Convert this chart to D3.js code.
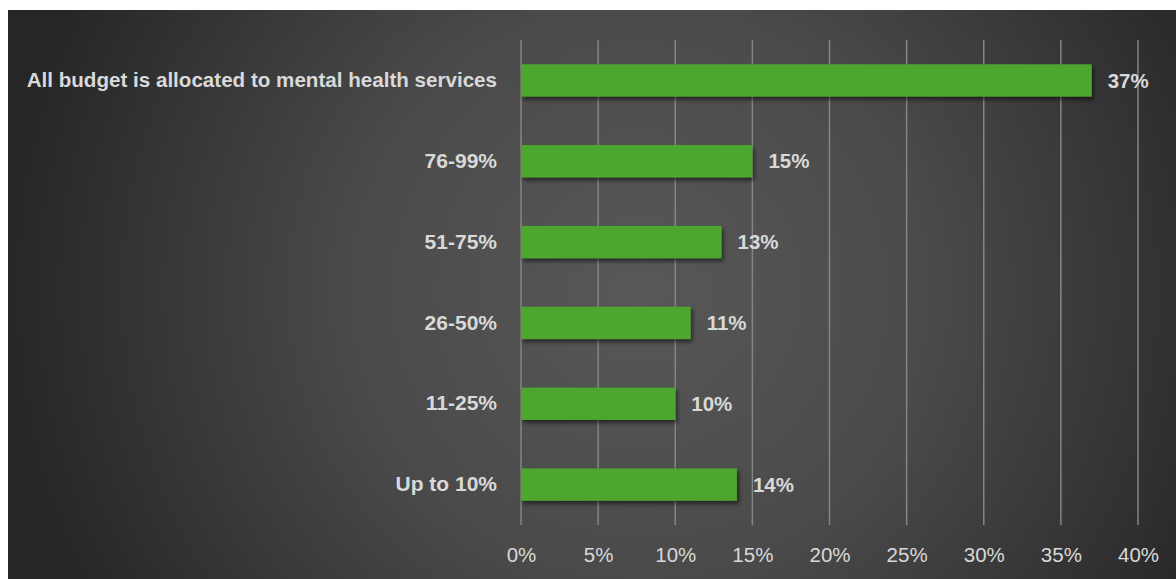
<!DOCTYPE html>
<html>
<head>
<meta charset="utf-8">
<script src="https://cdn.jsdelivr.net/npm/d3@7"></script>
<style>
  html, body { margin: 0; padding: 0; background: #ffffff; }
  svg { display: block; }
</style>
</head>
<body>
<svg id="chart" width="1176" height="579"></svg>
<script>
// Share of budget allocated to mental health services
const categories = [
  "All budget is allocated to mental health services",
  "76-99%",
  "51-75%",
  "26-50%",
  "11-25%",
  "Up to 10%"
];
const values = [37, 15, 13, 11, 10, 14];
const tickValues = [0, 5, 10, 15, 20, 25, 30, 35, 40];

const W = 1176, H = 579;
const svg = d3.select("#chart");

// Dark radial-gradient panel
const defs = svg.append("defs");
const grad = defs.append("radialGradient")
  .attr("id", "bg")
  .attr("gradientUnits", "userSpaceOnUse")
  .attr("cx", 640).attr("cy", 290).attr("r", 640);
grad.append("stop").attr("offset", "0%").attr("stop-color", "#585858");
grad.append("stop").attr("offset", "45%").attr("stop-color", "#4a4a4a");
grad.append("stop").attr("offset", "100%").attr("stop-color", "#262626");

const shadow = defs.append("filter").attr("id", "barShadow")
  .attr("x", "-5%").attr("y", "-30%").attr("width", "115%").attr("height", "180%");
shadow.append("feDropShadow")
  .attr("dx", 2).attr("dy", 3).attr("stdDeviation", 2.2)
  .attr("flood-color", "#000").attr("flood-opacity", 0.55);

svg.append("rect")
  .attr("x", 8).attr("y", 10)
  .attr("width", W - 8).attr("height", H - 10)
  .attr("fill", "url(#bg)");

const plot = { left: 521, right: 1138, top: 40, bottom: 525 };

const x = d3.scaleLinear().domain([0, 40]).range([plot.left, plot.right]);
const y = d3.scaleBand().domain(categories).range([plot.top, plot.bottom]).paddingInner(0.6).paddingOuter(0.3);

const font = "'Liberation Sans', Arial, sans-serif";

// Vertical gridlines
svg.append("g")
  .selectAll("line")
  .data(tickValues)
  .join("line")
  .attr("x1", d => x(d)).attr("x2", d => x(d))
  .attr("y1", plot.top).attr("y2", plot.bottom)
  .attr("stroke", "#858585")
  .attr("stroke-width", 1.5);

// X axis tick labels
const xAxis = d3.axisBottom(x)
  .tickValues(tickValues)
  .tickFormat(d => d + "%")
  .tickSize(0)
  .tickPadding(0);
const gx = svg.append("g")
  .attr("transform", `translate(0, ${plot.bottom + 37})`)
  .call(xAxis);
gx.select(".domain").remove();
gx.selectAll("text")
  .attr("dy", 0)
  .attr("fill", "#d9d9d9")
  .style("font-family", font)
  .style("font-size", "20.5px");

// Category labels
const yAxis = d3.axisLeft(y).tickSize(0).tickPadding(0);
const gy = svg.append("g")
  .attr("transform", `translate(${plot.left - 24}, 0)`)
  .call(yAxis);
gy.select(".domain").remove();
gy.selectAll("text")
  .attr("x", 0)
  .attr("fill", "#d9d9d9")
  .style("font-family", font)
  .style("font-weight", "bold")
  .style("font-size", (d, i) => i === 0 ? "20.6px" : "21px");

// Bars
const rows = categories.map((c, i) => ({ category: c, value: values[i] }));
svg.append("g")
  .selectAll("rect")
  .data(rows)
  .join("rect")
  .attr("x", x(0))
  .attr("y", d => y(d.category))
  .attr("width", d => x(d.value) - x(0))
  .attr("height", y.bandwidth())
  .attr("fill", "#4ea72e")
  .attr("filter", "url(#barShadow)");

// Value labels
svg.append("g")
  .selectAll("text")
  .data(rows)
  .join("text")
  .attr("x", d => x(d.value) + 16)
  .attr("y", d => y(d.category) + y.bandwidth() / 2)
  .attr("dy", "0.35em")
  .attr("fill", "#d9d9d9")
  .style("font-family", font)
  .style("font-weight", "bold")
  .style("font-size", "20.5px")
  .text(d => d.value + "%");
</script>
</body>
</html>
